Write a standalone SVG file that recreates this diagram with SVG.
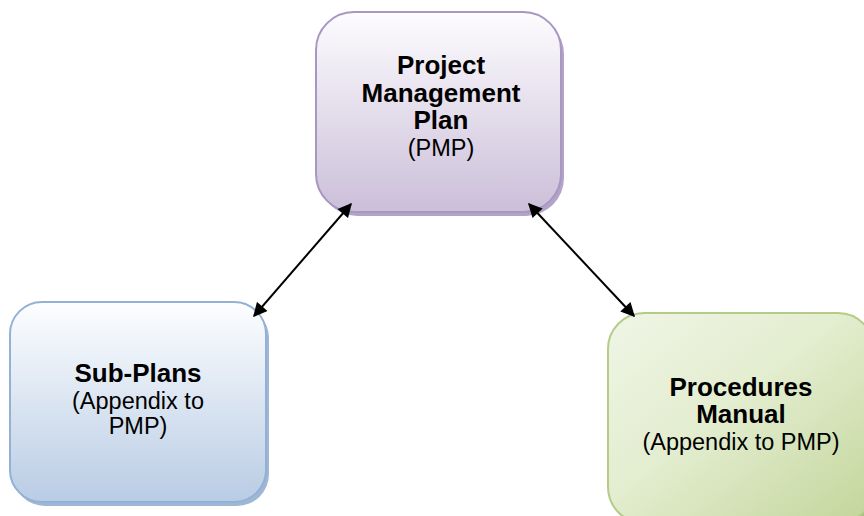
<svg xmlns="http://www.w3.org/2000/svg" width="864" height="516" viewBox="0 0 864 516">
  <defs>
    <linearGradient id="gPurple" x1="0" y1="0" x2="0" y2="1">
      <stop offset="0" stop-color="#fdfcfe"/>
      <stop offset="1" stop-color="#cbbfd9"/>
    </linearGradient>
    <linearGradient id="gBlue" x1="0" y1="0" x2="0" y2="1">
      <stop offset="0" stop-color="#fdfeff"/>
      <stop offset="1" stop-color="#b9cce4"/>
    </linearGradient>
    <linearGradient id="gGreen" x1="0" y1="0" x2="1" y2="1">
      <stop offset="0" stop-color="#f0f5e6"/>
      <stop offset="0.45" stop-color="#e3edcf"/>
      <stop offset="1" stop-color="#c2d59a"/>
    </linearGradient>
    <marker id="head" viewBox="0 0 10 10" refX="9" refY="5" markerWidth="7.5" markerHeight="7" orient="auto-start-reverse" markerUnits="strokeWidth">
      <path d="M0,0 L10,5 L0,10 z" fill="#000"/>
    </marker>
  </defs>
  <style>
    .t { font-family: "Liberation Sans", Arial, sans-serif; fill: #000; text-anchor: middle; }
    .b { font-weight: bold; font-size: 26px; }
    .r { font-size: 23.5px; }
    .link { stroke: #000; stroke-width: 2; fill: none; marker-start: url(#head); marker-end: url(#head); }
  </style>

  <rect width="864" height="516" fill="#fff"/>

  <!-- Project Management Plan -->
  <g id="pmp">
    <rect x="319" y="16" width="245" height="200" rx="38" fill="#b3a3c6"/>
    <rect x="316" y="12" width="245" height="200" rx="38" fill="url(#gPurple)" stroke="#a896c3" stroke-width="2"/>
    <text class="t b" x="441" y="74">Project</text>
    <text class="t b" x="441" y="102">Management</text>
    <text class="t b" x="441" y="129">Plan</text>
    <text class="t r" x="441" y="156">(PMP)</text>
  </g>

  <!-- Sub-Plans -->
  <g id="subplans">
    <rect x="13" y="306" width="256" height="200" rx="32" fill="#9fb6d4"/>
    <rect x="10" y="302" width="256" height="200" rx="32" fill="url(#gBlue)" stroke="#93b1d6" stroke-width="2"/>
    <text class="t b" x="138" y="382">Sub-Plans</text>
    <text class="t r" x="138" y="409">(Appendix to</text>
    <text class="t r" x="138" y="434">PMP)</text>
  </g>

  <!-- Procedures Manual -->
  <g id="procedures">
    <rect x="611" y="317" width="266" height="210" rx="36" fill="#a9bd86"/>
    <rect x="608" y="313" width="266" height="210" rx="36" fill="url(#gGreen)" stroke="#b5cc88" stroke-width="2"/>
    <text class="t b" x="741" y="396">Procedures</text>
    <text class="t b" x="741" y="423">Manual</text>
    <text class="t r" x="741" y="450">(Appendix to PMP)</text>
  </g>

  <!-- Connectors -->
  <g id="connectors">
    <line class="link" x1="351" y1="204" x2="254" y2="316"/>
    <line class="link" x1="529" y1="204" x2="634" y2="316"/>
  </g>
</svg>
